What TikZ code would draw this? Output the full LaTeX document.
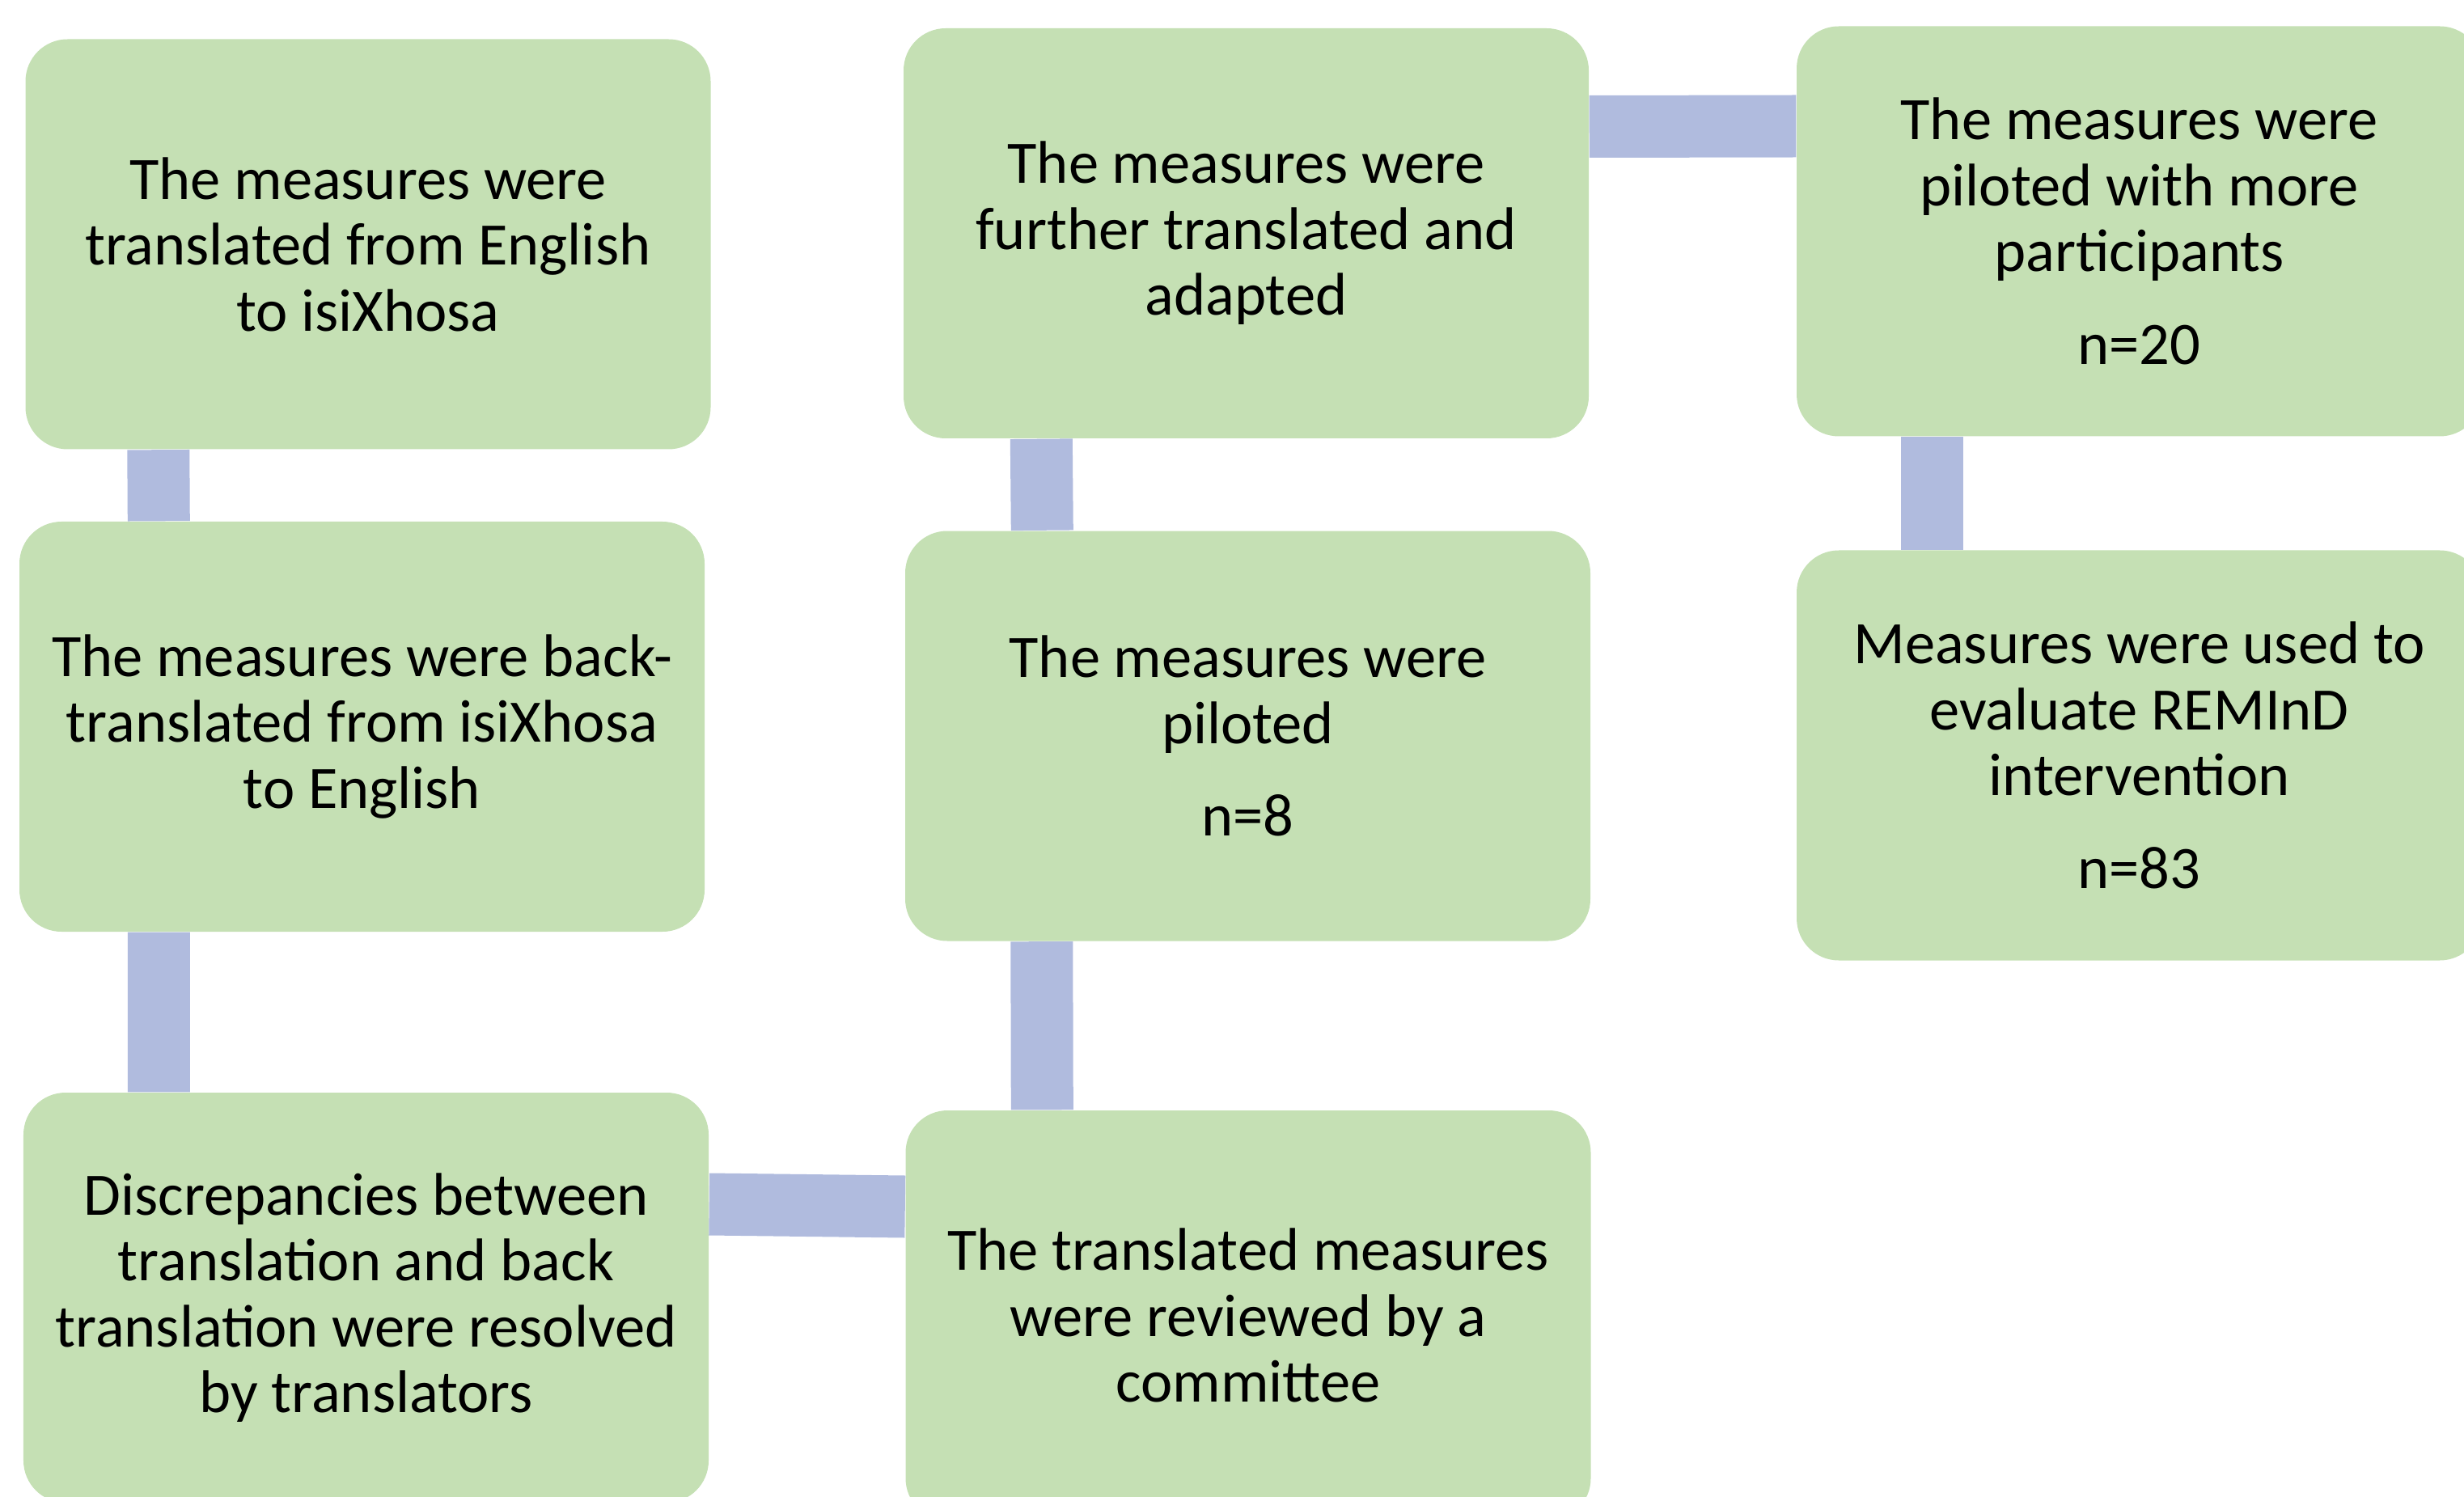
\documentclass[tikz,border=0pt]{standalone}
\usepackage{fontspec}
\setmainfont{Carlito}
\definecolor{kastengruen}{HTML}{C5E0B4}
\definecolor{balkenblau}{HTML}{B0BBDE}
\tikzset{
    kasten/.style={fill=kastengruen, rounded corners=0.52cm, minimum width=8.47cm,
        minimum height=5.07cm, align=center, inner sep=0pt,
        font=\fontsize{21.2}{23.2}\selectfont},
    balken/.style={draw=balkenblau, line width=0.77cm},
}
\begin{document}
\begin{tikzpicture}
        \def\nabstand{0.33cm}
        \useasboundingbox (0,0) rectangle (30.46,-18.51);
        % Kaesten links
        \node[kasten] (uebersetzt) at (4.55,-3.02) {The measures were\\translated from English\\to isiXhosa};
        \node[kasten] (rueck) at (4.475,-8.985) {The measures were back-\\translated from isiXhosa\\to English};
        \node[kasten] (diskrepanz) at (4.525,-16.045) {Discrepancies between\\translation and back\\translation were resolved\\by translators};
        % Kaesten Mitte
        \node[kasten] (komitee) at (15.43,-16.265) {The translated measures\\were reviewed by a\\committee};
        \node[kasten] (pilot) at (15.425,-9.10) {The measures were\\piloted\\[\nabstand] n=8};
        \node[kasten] (angepasst) at (15.405,-2.885) {The measures were\\further translated and\\adapted};
        % Kaesten rechts
        \node[kasten] (pilotmehr) at (26.445,-2.86) {The measures were\\piloted with more\\participants\\[\nabstand] n=20};
        \node[kasten] (evaluiert) at (26.445,-9.34) {Measures were used to\\evaluate REMInD\\intervention\\[\nabstand] n=83};
        % Balken
        \draw[balken] ([xshift=1.65cm]uebersetzt.south west) -- ([xshift=1.73cm]rueck.north west);
        \draw[balken] ([xshift=1.73cm]rueck.south west) -- ([xshift=1.68cm]diskrepanz.north west);
        \draw[balken] ([yshift=1.155cm]diskrepanz.east) -- ([yshift=1.345cm]komitee.west);
        \draw[balken] ([xshift=1.695cm]komitee.north west) -- ([xshift=1.695cm]pilot.south west);
        \draw[balken] ([xshift=1.70cm]pilot.north west) -- ([xshift=1.71cm]angepasst.south west);
        \draw[balken] ([yshift=1.32cm]angepasst.east) -- ([yshift=1.30cm]pilotmehr.west);
        \draw[balken] ([xshift=1.685cm]pilotmehr.south west) -- ([xshift=1.685cm]evaluiert.north west);
    \end{tikzpicture}
\end{document}
